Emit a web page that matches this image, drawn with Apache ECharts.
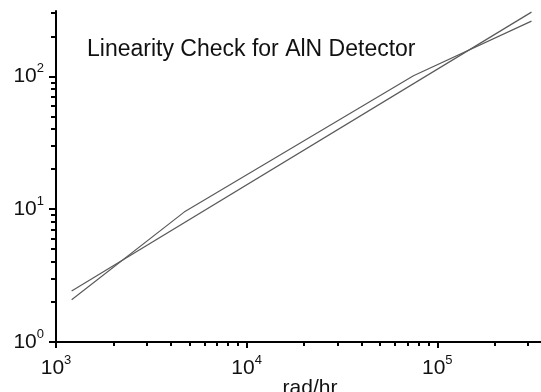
<!DOCTYPE html>
<html>
<head>
<meta charset="utf-8">
<script src="https://cdn.jsdelivr.net/npm/echarts@6/dist/echarts.min.js"></script>
<style>
html,body{margin:0;padding:0;background:#fff;}
#c{width:541px;height:392px;}
</style>
</head>
<body>
<div id="c"></div>
<script>
// ---- data ----
var titleText = 'Linearity Check for AlN Detector';
var xAxisName = 'rad/hr';
var fitX = [1208, 312000];
var fitY = [2.42, 304];
var measX = [1208, 4700, 75000, 312000];
var measY = [2.08, 9.5, 101, 260];
var xMajorTicks = [1000, 10000, 100000];
var xMinorTicks = [2000, 3000, 4000, 5000, 6000, 7000, 8000, 9000,
                   20000, 30000, 40000, 50000, 60000, 70000, 80000, 90000,
                   200000, 300000];
var yMajorTicks = [1, 10, 100];
var yMinorTicks = [2, 3, 4, 5, 6, 7, 8, 9,
                   20, 30, 40, 50, 60, 70, 80, 90,
                   200, 300];
var xRange = [1000, 350000];
var yRange = [1, 310];

function pairs(xs, ys) {
  return xs.map(function (x, i) { return [x, ys[i]]; });
}
function powLabel(v) {
  return '10{s|' + Math.round(Math.log10(v)) + '}';
}
var FONT = '"Liberation Sans", Arial, sans-serif';
var labelRich = {
  s: { fontSize: 13, fontFamily: FONT, color: '#111', verticalAlign: 'top', lineHeight: 13 }
};
var gridRect = { left: 56, right: 0, top: 11, bottom: 50, outerBoundsMode: 'none' };

var chart = echarts.init(document.getElementById('c'), null, { renderer: 'canvas' });
chart.setOption({
  animation: false,
  backgroundColor: '#fff',
  title: {
    text: titleText,
    left: 82, top: 33,
    textStyle: { fontFamily: FONT, fontSize: 23, fontWeight: 'normal', color: '#111' }
  },
  grid: [
    Object.assign({}, gridRect),
    Object.assign({}, gridRect)
  ],
  xAxis: [{
    type: 'log', gridIndex: 0, min: xRange[0], max: xRange[1],
    name: xAxisName, nameLocation: 'middle', nameGap: 36, nameMoveOverlap: false,
    nameTextStyle: { fontFamily: FONT, fontSize: 21, color: '#111', padding: [0, 0, 0, 23] },
    axisLine: { show: true, lineStyle: { color: '#000', width: 2 } },
    axisTick: { show: true, customValues: xMajorTicks, length: 6, lineStyle: { color: '#000', width: 2 } },
    axisLabel: {
      show: true, customValues: xMajorTicks, margin: 12,
      formatter: powLabel,
      fontFamily: FONT, fontSize: 21, color: '#111', lineHeight: 28, rich: labelRich
    },
    splitLine: { show: false }, minorTick: { show: false }
  }, {
    type: 'log', gridIndex: 1, min: xRange[0], max: xRange[1],
    axisLine: { show: false },
    axisTick: { show: true, customValues: xMinorTicks, length: 4, lineStyle: { color: '#000', width: 2 } },
    axisLabel: { show: false },
    splitLine: { show: false }
  }],
  yAxis: [{
    type: 'log', gridIndex: 0, min: yRange[0], max: yRange[1],
    axisLine: { show: true, lineStyle: { color: '#000', width: 2 } },
    axisTick: { show: true, customValues: yMajorTicks, length: 7, lineStyle: { color: '#000', width: 2 } },
    axisLabel: {
      show: true, customValues: yMajorTicks, margin: 12,
      formatter: powLabel,
      fontFamily: FONT, fontSize: 21, color: '#111', lineHeight: 28, rich: labelRich
    },
    splitLine: { show: false }, minorTick: { show: false }
  }, {
    type: 'log', gridIndex: 1, min: yRange[0], max: yRange[1],
    axisLine: { show: false },
    axisTick: { show: true, customValues: yMinorTicks, length: 5, lineStyle: { color: '#000', width: 2 } },
    axisLabel: { show: false },
    splitLine: { show: false }
  }],
  series: [{
    name: 'fit', type: 'line', xAxisIndex: 0, yAxisIndex: 0,
    data: pairs(fitX, fitY), showSymbol: false, symbol: 'none',
    lineStyle: { color: '#5a5a5a', width: 1.2 }
  }, {
    name: 'measured', type: 'line', xAxisIndex: 0, yAxisIndex: 0,
    data: pairs(measX, measY), showSymbol: false, symbol: 'none',
    lineStyle: { color: '#5a5a5a', width: 1.2 }
  }]
});
</script>
</body>
</html>
